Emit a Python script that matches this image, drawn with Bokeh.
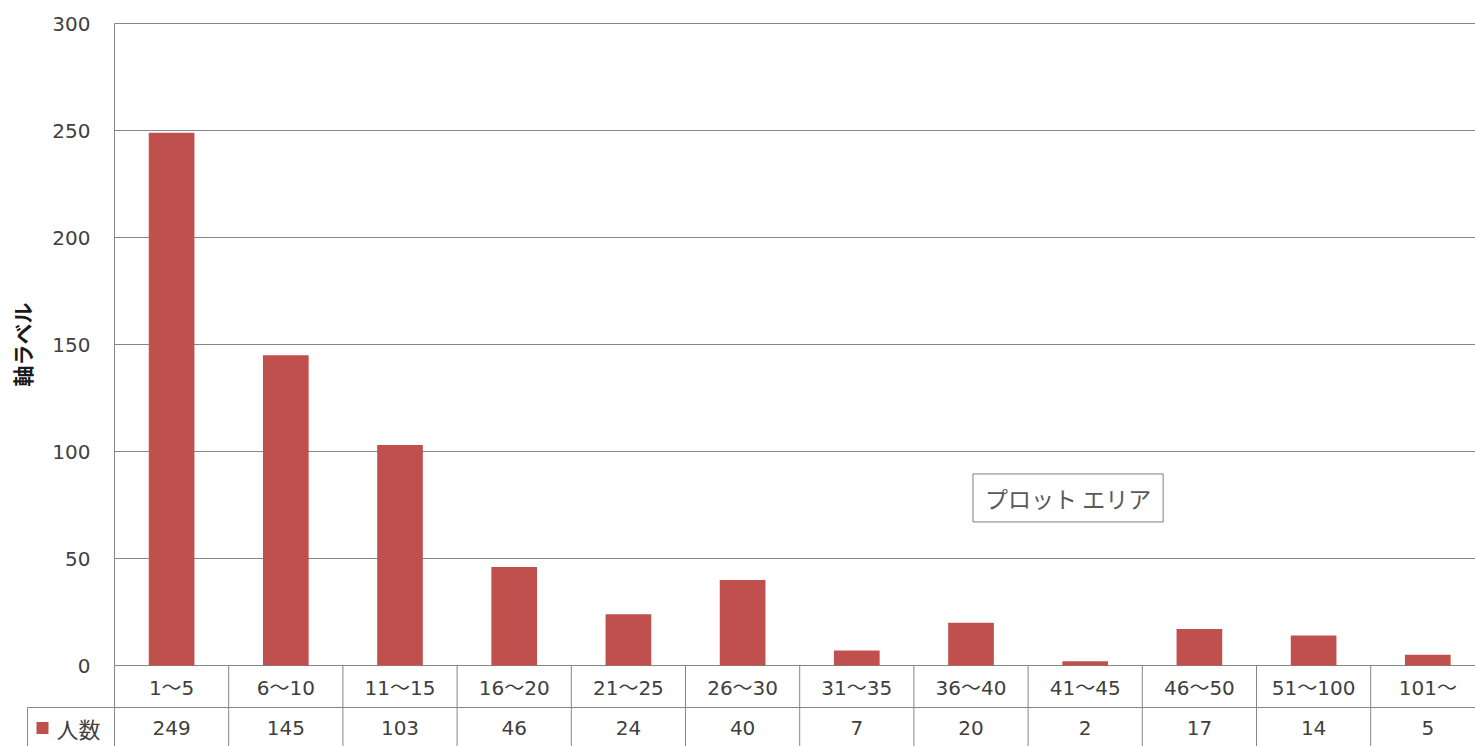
from bokeh.plotting import figure
from bokeh.models import Range1d, FixedTicker, Label, LinearAxis
from bokeh.embed import file_html
from bokeh.resources import INLINE

# ---- data ----
categories = ["1～5", "6～10", "11～15", "16～20", "21～25", "26～30",
              "31～35", "36～40", "41～45", "46～50", "51～100", "101～"]
counts = [249, 145, 103, 46, 24, 40, 7, 20, 2, 17, 14, 5]
series_name = "人数"
y_ticks = [0, 50, 100, 150, 200, 250, 300]
y_title = "軸ラベル"
area_label = "プロット エリア"

# ---- style / geometry ----
BAR = "#C0504D"
LINE = "#868686"
TEXT = "#404040"
NUM_FONT = "DejaVu Sans, Noto Sans CJK JP"
JP_FONT = "Noto Sans CJK JP"

W, H = 1475, 746
CAT_PX = 114.2            # pixels per category
AREA_LEFT = 114           # px of plot-area left edge
AREA_ZERO = 665           # px of value 0
PX_PER_UNIT = 2.14
X_START = -AREA_LEFT / CAT_PX
X_END = X_START + W / CAT_PX
Y_TOP = AREA_ZERO / PX_PER_UNIT
Y_BOT = -(H - AREA_ZERO) / PX_PER_UNIT
ROW1 = -42 / PX_PER_UNIT          # bottom of category row
ROW1_MID = -22.5 / PX_PER_UNIT
ROW2_MID = -62.5 / PX_PER_UNIT
LEFTCOL = -87 / CAT_PX            # legend column left edge

n = len(categories)
xs = [i + 0.5 for i in range(n)]
seps = list(range(n + 1))

p = figure(width=W, height=H, output_backend="svg", toolbar_location=None,
           x_range=Range1d(X_START, X_END), y_range=Range1d(Y_BOT, Y_TOP),
           x_axis_location=None, y_axis_location=None, min_border=0)
p.outline_line_color = None
p.xgrid.grid_line_color = None
p.ygrid.grid_line_color = None

# horizontal gridlines of the plot area
p.segment(x0=[0] * len(y_ticks), y0=y_ticks, x1=[X_END] * len(y_ticks), y1=y_ticks,
          line_color=LINE, line_width=1)

# y axis placed at the plot-area's left edge
ya = LinearAxis(fixed_location=0, ticker=FixedTicker(ticks=y_ticks),
                bounds=(min(y_ticks), max(y_ticks)))
ya.axis_line_color = LINE
ya.major_tick_out = 0
ya.major_tick_in = 0
ya.minor_tick_out = 0
ya.minor_tick_in = 0
ya.major_label_standoff = 24
ya.major_label_text_font = NUM_FONT
ya.major_label_text_font_size = "20px"
ya.major_label_text_color = TEXT
ya.axis_label = y_title
ya.axis_label_text_font = JP_FONT
ya.axis_label_text_font_style = "bold"
ya.axis_label_text_font_size = "21px"
ya.axis_label_text_color = "#1a1a1a"
ya.axis_label_standoff = 12
p.add_layout(ya, "left")

p.vbar(x=xs, top=counts, bottom=0, width=0.4, fill_color=BAR, line_color=None)

# data table: category row + value row
p.segment(x0=seps, y0=[0] * len(seps), x1=seps, y1=[Y_BOT] * len(seps),
          line_color=LINE, line_width=1)
p.segment(x0=[LEFTCOL], y0=[ROW1], x1=[LEFTCOL], y1=[Y_BOT],
          line_color=LINE, line_width=1)
p.segment(x0=[LEFTCOL], y0=[ROW1], x1=[X_END], y1=[ROW1], line_color=LINE, line_width=1)

p.text(x=xs, y=[ROW1_MID] * n, text=categories, text_align="center",
       text_baseline="middle", text_font_size="20px", text_color=TEXT,
       text_font={"value": NUM_FONT})
p.text(x=xs, y=[ROW2_MID] * n, text=[str(c) for c in counts], text_align="center",
       text_baseline="middle", text_font_size="20px", text_color=TEXT,
       text_font={"value": NUM_FONT})
p.scatter(x=[LEFTCOL + 15 / CAT_PX], y=[ROW2_MID], marker="square", size=12,
          fill_color=BAR, line_color=None)
p.text(x=[LEFTCOL + 29 / CAT_PX], y=[ROW2_MID], text=[series_name], text_align="left",
       text_baseline="middle", text_font_size="22px", text_color=TEXT,
       text_font={"value": JP_FONT})

p.add_layout(Label(x=8.35, y=78.3, text=area_label, text_align="center",
                   text_baseline="middle", text_font=JP_FONT,
                   text_font_size="23px", text_color="#595959",
                   border_line_color="#7f7f7f", border_line_width=1,
                   background_fill_color="white", padding=(12, 7)))

open("out.html", "w").write(file_html(p, INLINE))
